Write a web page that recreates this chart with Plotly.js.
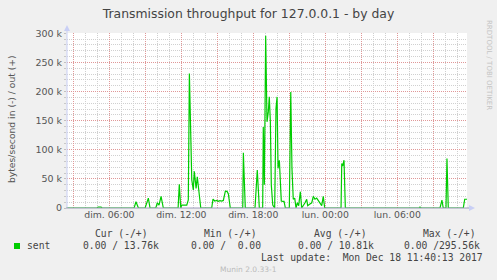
<!DOCTYPE html>
<html><head><meta charset="utf-8">
<script src="https://cdn.plot.ly/plotly-3.0.1.min.js"></script>
<style>html,body{margin:0;padding:0;background:#f0f0f0;}#chart{width:497px;height:280px;}</style>
</head><body><div id="chart"></div>
<script>
// Time in hours since Sunday (dim.) 00:00, 17 Dec 2017
const hours = [2.47,4.97,5.06,5.31,5.39,8.06,8.22,8.42,8.98,9.25,9.39,9.87,10.0,10.14,10.31,10.5,
 11.73,11.83,11.95,12.03,12.23,12.45,12.58,12.67,12.87,13.0,13.08,13.23,13.33,13.5,13.62,
 14.53,14.64,14.78,14.95,15.08,15.22,15.37,15.5,15.67,15.81,15.92,16.0,16.08,
 17.12,17.17,17.33,18.14,18.33,18.5,18.78,18.83,18.92,19.03,19.14,19.25,19.33,19.42,19.5,19.62,19.78,
 19.89,19.98,20.06,20.17,20.25,20.33,20.45,20.56,20.67,21.0,21.12,21.22,21.33,21.45,21.56,21.67,21.78,
 21.92,22.03,22.17,22.31,22.45,22.53,22.72,22.87,23.0,23.14,23.28,23.42,23.56,23.7,23.83,23.95,
 25.31,25.37,25.45,25.56,25.67,31.85,31.89,31.93,33.56,33.72,33.83,34.06,34.14,34.25,35.5,35.62,35.81];
// bytes/second sent (out, +)
const sent = [0,0,1500,1500,0,0,10800,0,0,17000,0,0,9000,5000,20000,0,
 0,40600,0,5000,5000,5000,13700,231000,48000,31000,63000,33700,53700,16600,0,
 0,15400,12000,13000,11500,12500,12000,13000,29000,28500,24000,13000,0,
 0,94900,0,0,65000,0,0,139000,40000,295560,148000,165000,190800,148000,39000,5000,0,
 171000,190800,68000,82000,28000,12000,11500,11500,0,0,199000,68000,15000,17000,0,9000,4000,
 28000,0,4000,9000,15000,4000,7000,9000,20000,15000,17000,12000,7000,4000,20000,0,
 0,76600,72000,82000,0,0,2000,0,0,13700,0,0,85000,0,0,15000,15000];

const xGridVals = [3,6,9,12,15,18,21,24,27,30,33];
const xTickText = ['','dim. 06:00','','dim. 12:00','','dim. 18:00','','lun. 00:00','','lun. 06:00',''];
const yTickVals = [0,50000,100000,150000,200000,250000,300000];
const yTickText = ['0','50 k','100 k','150 k','200 k','250 k','300 k'];

const legendHeaders = ['Cur (-/+)','Min (-/+)','Avg (-/+)','Max (-/+)'];
const legendValues = ['0.00 / 13.76k','0.00 /\u00a0 0.00','0.00 / 10.81k','0.00 /295.56k'];
const seriesName = 'sent';
const titleText = 'Transmission throughput for 127.0.0.1 - by day';
const yTitle = 'bytes/second in (-) / out (+)';
const lastUpdate = 'Last update:\u00a0 Mon Dec 18 11:40:13 2017';
const footer = 'Munin 2.0.33-1';
const sideText = 'RRDTOOL / TOBI OETIKER';

// pixel -> paper helpers (plot area 67..467 x, 33..208 y)
const L=67, T=33, PW=400, PH=175;
const px = x => (x-L)/PW;
const py = y => (T+PH-y)/PH;

const mono = {family:'DejaVu Sans Mono', size:9.7, color:'#444'};
const headX = [95,204,313.7,423];
const valX = [83.3,190.7,297.7,404.3];
const ann = [];
legendHeaders.forEach((t,i)=>ann.push({text:t,x:px(headX[i]-2),y:py(233.3),xref:'paper',yref:'paper',xanchor:'left',yanchor:'middle',showarrow:false,font:mono}));
legendValues.forEach((t,i)=>ann.push({text:t,x:px(valX[i]-2),y:py(245.7),xref:'paper',yref:'paper',xanchor:'left',yanchor:'middle',showarrow:false,font:mono}));
ann.push({text:seriesName,x:px(26.7-2),y:py(245.7),xref:'paper',yref:'paper',xanchor:'left',yanchor:'middle',showarrow:false,font:mono});
ann.push({text:lastUpdate,x:px(483.3+2),y:py(257.3),xref:'paper',yref:'paper',xanchor:'right',yanchor:'middle',showarrow:false,font:mono});
ann.push({text:footer,x:px(248.5),y:py(269.5),xref:'paper',yref:'paper',xanchor:'center',yanchor:'middle',showarrow:false,font:{family:'DejaVu Sans',size:7.5,color:'#bbbbbb'}});
ann.push({text:yTitle,x:px(11),y:py(119),xref:'paper',yref:'paper',xanchor:'center',yanchor:'middle',textangle:-90,showarrow:false,font:{family:'DejaVu Sans',size:9.2,color:'#555'}});
ann.push({text:sideText,x:px(489),y:py(65),xref:'paper',yref:'paper',xanchor:'center',yanchor:'middle',textangle:90,showarrow:false,font:{family:'DejaVu Sans',size:7,color:'#c4c4c4'}});

const shapes = [
 {type:'rect',xref:'paper',yref:'paper',x0:px(14),x1:px(20),y0:py(243),y1:py(249),fillcolor:'#00cc00',line:{width:0}},
 {type:'line',xref:'paper',yref:'paper',x0:px(67),x1:px(67),y0:py(208),y1:py(28),line:{color:'#c9cff5',width:1}},
 {type:'path',xref:'paper',yref:'paper',path:`M ${px(64)} ${py(31)} L ${px(70)} ${py(31)} L ${px(67)} ${py(25)} Z`,fillcolor:'#c9cff5',line:{width:0}},
 {type:'line',xref:'paper',yref:'paper',x0:px(66),x1:px(471),y0:py(208),y1:py(208),line:{color:'#9a9ab8',width:1}},
 {type:'path',xref:'paper',yref:'paper',path:`M ${px(469)} ${py(205)} L ${px(469)} ${py(211)} L ${px(475)} ${py(208)} Z`,fillcolor:'#c9cff5',line:{width:0}}
];

const trace = {x:hours,y:sent,type:'scatter',mode:'lines',line:{color:'#00cc00',width:1.2},hoverinfo:'skip',showlegend:false};

const layout = {
 width:497,height:280,
 margin:{l:L,r:497-L-PW,t:T,b:280-T-PH,pad:0},
 paper_bgcolor:'#f0f0f0',plot_bgcolor:'#ffffff',
 showlegend:false,
 title:{text:titleText,x:0.5,xref:'container',y:1-14/280,yref:'container',xanchor:'center',yanchor:'middle',font:{family:'DejaVu Sans',size:12.4,color:'#444'}},
 xaxis:{range:[2.47,35.81],tickmode:'array',tickvals:xGridVals,ticktext:xTickText,showgrid:true,gridcolor:'#e09898',griddash:'1px,1px',gridwidth:1,
   ticks:'',showline:false,zeroline:false,tickfont:{family:'DejaVu Sans',size:9.3,color:'#555'},
   minor:{dtick:1,tick0:0,showgrid:true,gridcolor:'#d0d0d0',griddash:'1px,1px',gridwidth:1}},
 yaxis:{range:[0,300500],tickmode:'array',tickvals:yTickVals,ticktext:yTickText,showgrid:true,gridcolor:'#e09898',griddash:'1px,1px',gridwidth:1,
   ticks:'outside',ticklen:2,tickcolor:'#c0c0c0',showline:false,zeroline:false,tickfont:{family:'DejaVu Sans',size:9.5,color:'#555'},
   minor:{dtick:10000,tick0:0,showgrid:true,gridcolor:'#d0d0d0',griddash:'1px,1px',gridwidth:1,ticks:'outside',ticklen:2,tickcolor:'#c8c8c8'}},
 annotations:ann,shapes:shapes
};
Plotly.newPlot('chart',[trace],layout,{staticPlot:true,displayModeBar:false});
</script></body></html>
